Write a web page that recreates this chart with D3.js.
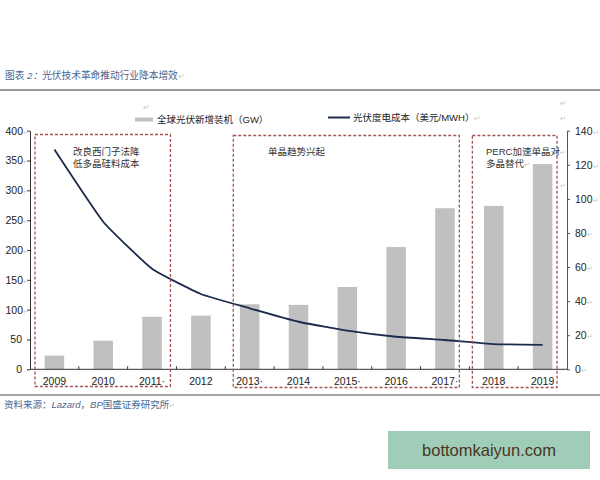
<!DOCTYPE html>
<html><head><meta charset="utf-8">
<script src="https://cdn.jsdelivr.net/npm/d3@7"></script>
<style>
html,body{margin:0;padding:0;background:#fff;}
svg{display:block;}
</style></head>
<body>
<svg id="c" width="600" height="480"></svg>
<script>
const years = ["2009","2010","2011","2012","2013","2014","2015","2016","2017","2018","2019"];
const yearLabels = ["2009","2010","2011·","2012","2013·","2014","2015·","2016","2017·","2018","2019"];
const installedGW = [23, 48, 88, 90, 109, 108, 138, 205, 270, 274, 344];
const lcoeUSD = [129, 86.6, 59, 44.2, 35.8, 27.9, 22.7, 19.1, 17.2, 14.8, 14.3];
const leftTicks = [0, 50, 100, 150, 200, 250, 300, 350, 400];
const rightTicks = [0, 20, 40, 60, 80, 100, 120, 140];
const legendLabels = ["全球光伏新增装机（GW）", "光伏度电成本（美元/MWH）"];
const boxGroups = [["2009","2011"],["2013","2017"],["2018","2019"]];
const boxNotes = [["改良西门子法降","低多晶硅料成本"],["单晶趋势兴起"],["PERC加速单晶对","多晶替代"]];
const titleText = ["图表 ", "2：", "光伏技术革命推动行业降本增效"];
const sourceText = ["资料来源：", "Lazard", "，", "BP", "国盛证券研究所"];
const watermark = "bottomkaiyun.com";

const svg = d3.select("#c");
const latin = "'Liberation Sans', Arial, sans-serif";
const cjk = "'Liberation Sans', 'Noto Sans CJK SC', sans-serif";
const mark = "#c8c8c8";

const x0 = 30, x1 = 567, yTop = 130.7, yBot = 369.3;
const x = d3.scaleBand().domain(years).range([x0, x1]).paddingInner(0.6).paddingOuter(0.3);
const step = x.step();
const yL = d3.scaleLinear().domain([0, 400]).range([yBot, yTop]);
const yR = d3.scaleLinear().domain([0, 140]).range([yBot, yTop]);

// title
const t = svg.append("text").attr("x", 5).attr("y", 79).attr("font-family", cjk).attr("font-size", 9.7).attr("fill", "#4d6690");
t.append("tspan").text(titleText[0]);
t.append("tspan").attr("font-style", "italic").text(titleText[1]);
t.append("tspan").text(titleText[2]);
t.append("tspan").attr("fill", mark).attr("font-size", 8).text("↵");
svg.append("line").attr("x1", 0).attr("x2", 600).attr("y1", 90).attr("y2", 90).attr("stroke", "#9a9a9a").attr("stroke-width", 2);

// legend
svg.append("text").attr("x", 143).attr("y", 110).attr("font-size", 8).attr("fill", mark).attr("font-family", latin).text("↵");
svg.append("line").attr("x1", 135).attr("x2", 153).attr("y1", 119.5).attr("y2", 119.5).attr("stroke", "#c0c0c0").attr("stroke-width", 4);
svg.append("text").attr("x", 157).attr("y", 123).attr("font-family", cjk).attr("font-size", 9.5).attr("fill", "#222").text(legendLabels[0]);
svg.append("line").attr("x1", 328).attr("x2", 350).attr("y1", 117.5).attr("y2", 117.5).attr("stroke", "#1c2b4b").attr("stroke-width", 2);
const lt2 = svg.append("text").attr("x", 353).attr("y", 121).attr("font-family", cjk).attr("font-size", 9.5).attr("fill", "#222").text(legendLabels[1]);
lt2.append("tspan").attr("fill", mark).attr("font-size", 8).text("↵");
[106, 121].forEach(yy => svg.append("text").attr("x", 560).attr("y", yy).attr("font-size", 8).attr("fill", mark).attr("font-family", latin).text("↵"));

// bars
svg.append("g").selectAll("rect").data(years).join("rect")
  .attr("x", d => x(d)).attr("width", x.bandwidth())
  .attr("y", (d, i) => yL(installedGW[i]))
  .attr("height", (d, i) => yBot - yL(installedGW[i]))
  .attr("fill", "#c0c0c0");

// line
const line = d3.line().x((d, i) => x(years[i]) + x.bandwidth() / 2).y(d => yR(d)).curve(d3.curveCardinal.tension(0.6));
svg.append("path").datum(lcoeUSD).attr("d", line).attr("fill", "none").attr("stroke", "#1c2b4b").attr("stroke-width", 1.8);

// left axis
const gl = svg.append("g").attr("transform", `translate(${x0},0)`)
  .call(d3.axisLeft(yL).tickValues(leftTicks).tickSize(3).tickSizeOuter(0).tickFormat(d => d));
gl.select(".domain").attr("stroke", "#333");
gl.selectAll(".tick line").attr("stroke", "#333");
gl.selectAll(".tick text").attr("font-family", latin).attr("font-size", 10.5).attr("fill", "#222").attr("x", -8);
gl.selectAll(".tick text").filter(d => d >= 100).append("tspan").attr("fill", mark).attr("font-size", 7).text("↵");
gl.selectAll(".tick text").filter(d => d >= 100).attr("x", -1);

// right axis
const gr = svg.append("g").attr("transform", `translate(${x1},0)`)
  .call(d3.axisRight(yR).tickValues(rightTicks).tickSize(3).tickSizeOuter(0).tickFormat(d => d));
gr.select(".domain").attr("stroke", "#555");
gr.selectAll(".tick line").attr("stroke", "#555");
gr.selectAll(".tick text").attr("font-family", latin).attr("font-size", 10.5).attr("fill", "#222").attr("x", 8);
gr.selectAll(".tick text").append("tspan").attr("fill", mark).attr("font-size", 7).text("↵");

// x axis
svg.append("line").attr("x1", x0).attr("x2", x1).attr("y1", yBot).attr("y2", yBot).attr("stroke", "#333");
svg.append("g").selectAll("line").data(years.slice(1)).join("line")
  .attr("x1", d => x(d) - step * 0.3).attr("x2", d => x(d) - step * 0.3)
  .attr("y1", yBot).attr("y2", yBot - 3).attr("stroke", "#333");
svg.append("g").selectAll("text").data(years).join("text")
  .attr("x", d => x(d) + x.bandwidth() / 2).attr("y", 385)
  .attr("text-anchor", "middle").attr("font-family", latin).attr("font-size", 10.5).attr("fill", "#222")
  .text((d, i) => yearLabels[i]);

// dashed boxes
const boxInset = [[5, 6], [8, 10], [3, 10]];
boxGroups.forEach((g, i) => {
  const bx0 = x(g[0]) - step * 0.3 + boxInset[i][0];
  const bx1 = x(g[1]) + x.bandwidth() + step * 0.3 - boxInset[i][1];
  svg.append("rect").attr("x", bx0).attr("y", i === 0 ? 134.5 : 135.5).attr("width", bx1 - bx0).attr("height", 252)
    .attr("fill", "none").attr("stroke", "#a05454").attr("stroke-width", 1.3).attr("stroke-dasharray", "3,2");
});
const noteX = [73, 268, 486];
boxNotes.forEach((lines, i) => {
  lines.forEach((s, j) => {
    const tt = svg.append("text").attr("x", noteX[i]).attr("y", 155 + j * 12)
      .attr("font-family", cjk).attr("font-size", 9.5).attr("fill", "#333").text(s);
    if (i === 2 && j === 1) tt.append("tspan").attr("fill", mark).attr("font-size", 7).text("↵");
  });
});
[155, 188].forEach(yy => svg.append("text").attr("x", 560).attr("y", yy).attr("font-size", 7).attr("fill", mark).attr("font-family", latin).text("↵"));

// bottom rule and source
svg.append("line").attr("x1", 0).attr("x2", 600).attr("y1", 395).attr("y2", 395).attr("stroke", "#8a8a8a").attr("stroke-width", 1.5);
const st = svg.append("text").attr("x", 4).attr("y", 408).attr("font-family", cjk).attr("font-size", 9.5).attr("fill", "#4d6690");
sourceText.forEach((s, i) => st.append("tspan").attr("font-style", (i === 1 || i === 3) ? "italic" : null).text(s));
st.append("tspan").attr("fill", mark).attr("font-size", 7).text("↵");

// watermark
svg.append("rect").attr("x", 388).attr("y", 431).attr("width", 202).attr("height", 38).attr("fill", "#9fcdb8");
svg.append("text").attr("x", 489).attr("y", 456).attr("text-anchor", "middle").attr("font-family", latin)
  .attr("font-size", 16.5).attr("fill", "#4a3524").text(watermark);
</script>
</body></html>
